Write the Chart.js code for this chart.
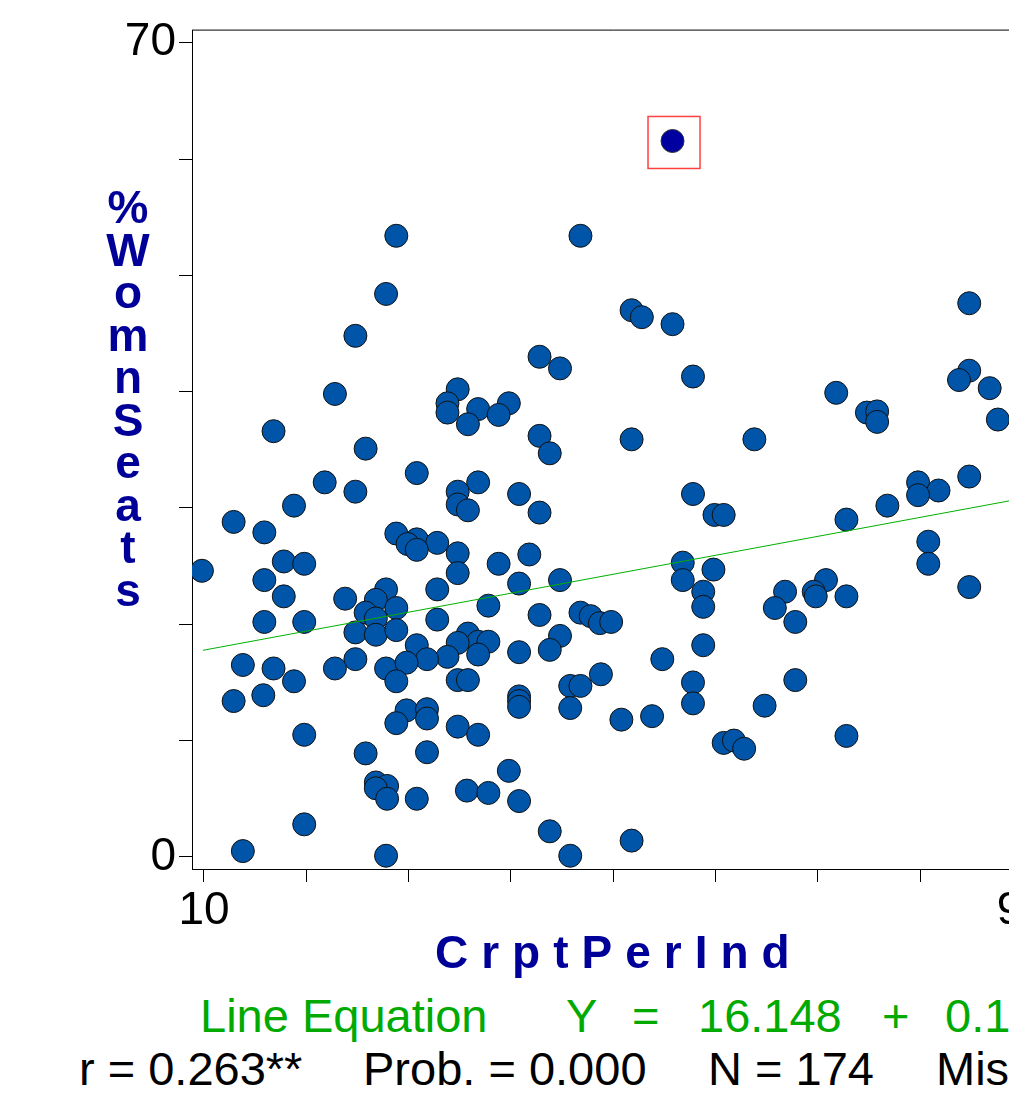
<!DOCTYPE html>
<html>
<head>
<meta charset="utf-8">
<script src="https://cdn.jsdelivr.net/npm/chart.js@4.4.0/dist/chart.umd.min.js"></script>
<style>
  html, body { margin: 0; padding: 0; background: #fff; overflow: hidden; width: 1009px; height: 1108px; }
  #wrap { position: relative; width: 1009px; height: 1108px; overflow: hidden; }
  #chart { position: absolute; left: 0; top: 0; }
  .txt { position: absolute; font-family: 'Liberation Sans', Arial, sans-serif; font-size: 47px; line-height: 47px; white-space: pre; }
  .green { color: #00aa00; }
  .black { color: #000; }
  #ytitle { position: absolute; left: 98px; top: 186px; width: 60px; text-align: center;
            font: bold 46px 'Liberation Sans', Arial, sans-serif; color: #000099; }
  #ytitle span { display: block; height: 42.5px; line-height: 42.5px; }
  #xtitle { position: absolute; left: 435px; top: 929px; font: bold 46px 'Liberation Sans', Arial, sans-serif;
            line-height: 46px; color: #000099; letter-spacing: 13px; white-space: pre; }
</style>
</head>
<body>
<div id="wrap">
  <canvas id="chart" width="1100" height="960"></canvas>
  <div id="ytitle"><span>%</span><span>W</span><span>o</span><span>m</span><span>n</span><span>S</span><span>e</span><span>a</span><span>t</span><span>s</span></div>
  <div id="xtitle">CrptPerInd</div>
  <div class="txt green" style="left:200px; top:992px;">Line Equation</div>
  <div class="txt green" style="left:566px; top:992px;">Y</div>
  <div class="txt green" style="left:632px; top:992px;">=</div>
  <div class="txt green" style="left:698px; top:992px;">16.148</div>
  <div class="txt green" style="left:882px; top:992px;">+</div>
  <div class="txt green" style="left:945px; top:992px;">0.163</div>
  <div class="txt black" style="left:79px; top:1045px;">r = 0.263**</div>
  <div class="txt black" style="left:363px; top:1045px;">Prob. = 0.000</div>
  <div class="txt black" style="left:708px; top:1045px;">N = 174</div>
  <div class="txt black" style="left:936px; top:1045px;">Missing</div>
</div>
<script>
// data
const crptPerInd = [
  28.8, 46.8, 27.8, 84.8, 51.8, 52.8, 55.8, 24.8, 42.8, 44.8,
  57.8, 84.8, 83.8, 86.8, 22.8, 71.8, 34.8, 33.8, 33.8, 36.8,
  39.8, 38.8, 35.8, 74.8, 75.8, 75.8, 87.6, 16.8, 42.8, 51.8,
  63.8, 25.8, 43.8, 30.8, 84.8, 79.8, 21.8, 36.8, 24.8, 34.8,
  40.8, 57.8, 81.8, 79.8, 18.8, 34.8, 35.8, 76.8, 42.8, 59.9,
  60.8, 12.9, 72.8, 15.9, 28.8, 30.8, 29.9, 32.8, 30.8, 34.8,
  41.8, 80.8, 9.8, 17.8, 19.8, 38.8, 34.8, 56.8, 59.8, 80.8,
  15.9, 44.8, 27.8, 32.8, 40.8, 56.8, 70.8, 84.8, 17.8, 23.8,
  26.8, 58.8, 66.8, 69.6, 69.8, 72.8, 37.8, 25.8, 28.8, 26.8,
  42.8, 46.8, 47.8, 48.7, 49.8, 58.8, 65.8, 15.9, 19.8, 67.8,
  32.8, 24.8, 26.8, 28.8, 35.8, 36.8, 34.8, 37.8, 30.8, 44.8,
  43.8, 40.8, 58.8, 33.8, 36.8, 31.8, 24.8, 13.8, 16.8, 22.8,
  27.8, 29.8, 54.8, 18.8, 28.8, 34.8, 35.8, 45.8, 46.8, 48.8,
  57.8, 67.8, 12.9, 15.8, 40.8, 40.8, 40.8, 57.8, 45.8, 64.8,
  29.8, 31.8, 28.8, 31.8, 34.8, 50.8, 53.8, 19.8, 36.8, 72.8,
  60.8, 61.8, 62.8, 25.8, 31.8, 39.8, 26.8, 27.9, 26.8, 27.9,
  35.7, 37.8, 30.8, 40.8, 19.8, 43.8, 51.8, 13.8, 27.8, 45.8
];
const womnSeats = [
  53.4, 53.4, 48.4, 47.6, 47.0, 46.4, 45.8, 44.8, 43.0, 42.0,
  41.3, 41.8, 41.0, 40.3, 39.8, 39.9, 40.2, 39.0, 38.2, 38.5,
  39.0, 38.0, 37.2, 38.2, 38.3, 37.4, 37.6, 36.6, 36.2, 35.9,
  35.9, 35.1, 34.7, 33.0, 32.7, 32.2, 32.2, 32.2, 31.4, 31.4,
  31.2, 31.2, 31.5, 31.1, 30.2, 30.3, 29.8, 30.2, 29.6, 29.4,
  29.4, 28.8, 29.0, 27.9, 27.8, 27.3, 26.9, 27.0, 26.4, 26.1,
  26.0, 27.1, 24.6, 25.4, 25.2, 25.2, 24.4, 25.3, 24.7, 25.2,
  23.8, 23.8, 23.0, 23.0, 23.5, 23.8, 23.8, 23.2, 22.4, 22.2,
  22.1, 22.8, 22.8, 22.8, 22.4, 22.4, 21.6, 21.0, 21.4, 20.5,
  20.8, 21.0, 20.7, 20.1, 20.2, 21.5, 21.4, 20.2, 20.2, 20.2,
  20.4, 19.3, 19.1, 19.5, 19.2, 18.5, 18.4, 18.5, 18.2, 19.0,
  17.8, 17.6, 18.2, 17.2, 17.4, 17.0, 17.0, 16.5, 16.2, 16.2,
  16.2, 16.7, 17.0, 15.1, 15.1, 15.2, 15.2, 14.7, 14.7, 15.7,
  15.0, 15.2, 13.4, 13.9, 13.8, 13.4, 12.9, 13.2, 12.8, 13.0,
  12.6, 12.7, 11.5, 11.9, 11.2, 11.8, 12.1, 10.5, 10.5, 10.4,
  9.8, 10.0, 9.3, 8.9, 9.0, 7.4, 6.4, 6.1, 5.9, 5.0,
  5.7, 5.5, 5.0, 4.8, 2.8, 2.2, 1.4, 0.5, 0.1, 0.1
];
// the selected (boxed) point
const selX = [55.8];
const selY = [61.55];

// regression line as printed under the chart
const lineIntercept = 16.148;
const lineSlope = 0.163;
const lineX = [9.9, 91.2];

const xTicks = [10, 20, 30, 40, 50, 60, 70, 80, 90];
const xTickLabels = [10, 90];
const yTicks = [0, 10, 20, 30, 40, 50, 60, 70];
const yTickLabels = [0, 70];

const points = crptPerInd.map((x, i) => ({ x: x, y: womnSeats[i] }));
const selPoints = selX.map((x, i) => ({ x: x, y: selY[i] }));
const linePoints = lineX.map(x => ({ x: x, y: lineIntercept + lineSlope * x }));

Chart.defaults.font.family = "'Liberation Sans', Arial, sans-serif";
Chart.defaults.color = '#000';

// frame on top / right and the red box round the selected point
const framePlugin = {
  id: 'frame',
  afterDraw(chart) {
    const ctx = chart.ctx;
    const a = chart.chartArea;
    ctx.save();
    ctx.strokeStyle = '#000';
    ctx.lineWidth = 1;
    ctx.beginPath();
    ctx.moveTo(a.left, a.top - 0.5);
    ctx.lineTo(a.right + 0.5, a.top - 0.5);
    ctx.lineTo(a.right + 0.5, a.bottom);
    ctx.stroke();

    const px = chart.scales.x.getPixelForValue(selX[0]);
    const py = chart.scales.y.getPixelForValue(selY[0]);
    ctx.strokeStyle = '#ff4040';
    ctx.lineWidth = 1.5;
    ctx.strokeRect(px - 24.5, py - 24.5, 52, 52);
    ctx.restore();
  }
};

new Chart(document.getElementById('chart'), {
  type: 'scatter',
  data: {
    datasets: [
      {
        type: 'line',
        data: linePoints,
        borderColor: '#00b000',
        borderWidth: 1,
        pointRadius: 0,
        fill: false,
        order: 0
      },
      {
        data: points,
        pointRadius: 11.5,
        pointBackgroundColor: '#0055a8',
        pointBorderColor: '#111',
        pointBorderWidth: 1,
        order: 2
      },
      {
        data: selPoints,
        pointRadius: 11.5,
        pointBackgroundColor: '#0000a0',
        pointBorderColor: '#333',
        pointBorderWidth: 1,
        order: 1
      }
    ]
  },
  options: {
    responsive: false,
    animation: false,
    devicePixelRatio: 1,
    events: [],
    layout: { padding: { left: 0, top: 28, right: 65, bottom: 0 } },
    plugins: { legend: { display: false }, tooltip: { enabled: false } },
    scales: {
      x: {
        type: 'linear',
        min: 8.83,
        max: 91.23,
        afterBuildTicks: s => { s.ticks = xTicks.map(v => ({ value: v })); },
        afterFit: s => { s.height = 91; },
        grid: { drawOnChartArea: false, drawTicks: true, tickLength: 13, color: '#000', tickWidth: 1 },
        border: { display: true, color: '#000', width: 1 },
        ticks: {
          autoSkip: false,
          maxRotation: 0,
          minRotation: 0,
          padding: 2,
          font: { size: 46 },
          color: '#000',
          callback: v => xTickLabels.includes(v) ? String(v) : ''
        }
      },
      y: {
        type: 'linear',
        min: -1.04,
        max: 71.04,
        afterBuildTicks: s => { s.ticks = yTicks.map(v => ({ value: v })); },
        afterFit: s => { s.width = 192; },
        grid: { drawOnChartArea: false, drawTicks: true, tickLength: 13, color: '#000', tickWidth: 1 },
        border: { display: true, color: '#000', width: 1 },
        ticks: {
          autoSkip: false,
          padding: 3,
          font: { size: 46 },
          color: '#000',
          callback: v => yTickLabels.includes(v) ? String(v) : ''
        }
      }
    }
  },
  plugins: [framePlugin]
});
</script>
</body>
</html>
